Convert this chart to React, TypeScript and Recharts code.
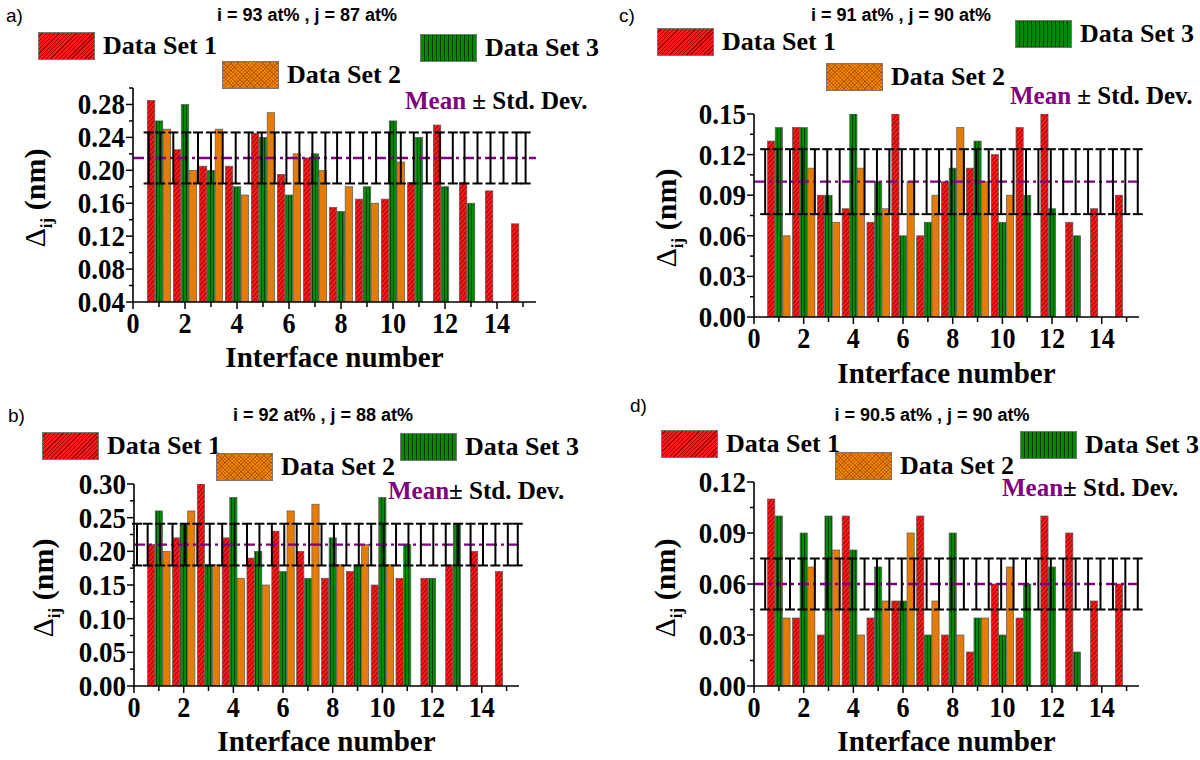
import React from 'react';
import { ComposedChart, Bar, XAxis, YAxis, Scatter, ErrorBar, ReferenceLine } from 'recharts';

// interface numbers shared by all four panels
const interfaceNo = [1, 2, 3, 4, 5, 6, 7, 8, 9, 10, 11, 12, 13, 14, 15];
const xTicks = [0, 1, 2, 3, 4, 5, 6, 7, 8, 9, 10, 11, 12, 13, 14, 15];

// a) i = 93 at%, j = 87 at%
const aSet1 = [0.285, 0.225, 0.205, 0.205, 0.245, 0.195, 0.215, 0.155, 0.165, 0.165, 0.185, 0.255, 0.185, 0.175, 0.135];
const aSet2 = [0.25, 0.2, 0.25, 0.17, 0.27, 0.22, 0.2, 0.18, 0.16, 0.21];
const aSet3 = [0.26, 0.28, 0.2, 0.18, 0.24, 0.17, 0.22, 0.15, 0.18, 0.26, 0.24, 0.18, 0.16];
const aMean = 0.215;
const aStd = 0.031;
const aErrX = [0.6, 1.05, 1.55, 2.05, 2.5, 3.0, 3.45, 3.95, 4.45, 4.95, 5.45, 5.9, 6.4, 6.9, 7.4, 7.85, 8.35, 8.85, 9.35, 9.85, 10.3, 10.8, 11.3, 11.8, 12.3, 12.75, 13.25, 13.75, 14.25, 14.75, 15.1];
const aYTicks = [0.04, 0.06, 0.08, 0.1, 0.12, 0.14, 0.16, 0.18, 0.2, 0.22, 0.24, 0.26, 0.28, 0.3];
const aYLabels = [0.04, 0.08, 0.12, 0.16, 0.2, 0.24, 0.28];

// b) i = 92 at%, j = 88 at%
const bSet1 = [0.21, 0.22, 0.3, 0.22, 0.19, 0.23, 0.2, 0.16, 0.17, 0.15, 0.16, 0.16, 0.18, 0.2, 0.17];
const bSet2 = [0.2, 0.26, 0.18, 0.16, 0.15, 0.26, 0.27, 0.18, 0.21, 0.18];
const bSet3 = [0.26, 0.24, 0.18, 0.28, 0.2, 0.17, 0.16, 0.22, 0.18, 0.28, 0.21, 0.16, 0.24];
const bMean = 0.21;
const bStd = 0.031;
const bErrX = [0.12, 0.55, 1.05, 1.55, 2.05, 2.55, 3.05, 3.55, 4.05, 4.55, 5.05, 5.55, 6.05, 6.55, 7.05, 7.55, 8.05, 8.55, 9.05, 9.55, 10.05, 10.55, 11.05, 11.55, 12.05, 12.55, 13.05, 13.55, 14.05, 14.55, 15.05, 15.45];
const bYTicks = [0, 0.025, 0.05, 0.075, 0.1, 0.125, 0.15, 0.175, 0.2, 0.225, 0.25, 0.275, 0.3];
const bYLabels = [0, 0.05, 0.1, 0.15, 0.2, 0.25, 0.3];

// c) i = 91 at%, j = 90 at%
const cSet1 = [0.13, 0.14, 0.09, 0.08, 0.07, 0.15, 0.06, 0.1, 0.11, 0.12, 0.14, 0.15, 0.07, 0.08, 0.09];
const cSet2 = [0.06, 0.11, 0.07, 0.11, 0.08, 0.1, 0.09, 0.14, 0.1, 0.09];
const cSet3 = [0.14, 0.14, 0.09, 0.15, 0.1, 0.06, 0.07, 0.11, 0.13, 0.07, 0.09, 0.08, 0.06];
const cMean = 0.1;
const cStd = 0.024;
const cErrX = [0.45, 0.95, 1.45, 1.95, 2.45, 2.95, 3.45, 3.95, 4.45, 4.95, 5.45, 5.95, 6.45, 6.95, 7.45, 7.95, 8.45, 8.95, 9.45, 9.95, 10.45, 10.95, 11.45, 11.95, 12.45, 12.95, 13.45, 13.95, 14.45, 14.95, 15.45];
const cYTicks = [0, 0.015, 0.03, 0.045, 0.06, 0.075, 0.09, 0.105, 0.12, 0.135, 0.15];
const cYLabels = [0, 0.03, 0.06, 0.09, 0.12, 0.15];

// d) i = 90.5 at%, j = 90 at%
const dSet1 = [0.11, 0.04, 0.03, 0.1, 0.04, 0.05, 0.1, 0.03, 0.02, 0.06, 0.04, 0.1, 0.09, 0.05, 0.06];
const dSet2 = [0.04, 0.07, 0.08, 0.03, 0.05, 0.09, 0.05, 0.03, 0.04, 0.07];
const dSet3 = [0.1, 0.09, 0.1, 0.08, 0.07, 0.05, 0.03, 0.09, 0.04, 0.03, 0.06, 0.07, 0.02];
const dMean = 0.06;
const dStd = 0.015;
const dErrX = [0.45, 0.95, 1.45, 1.95, 2.45, 2.95, 3.45, 3.95, 4.45, 4.95, 5.45, 5.95, 6.45, 6.95, 7.45, 7.95, 8.45, 8.95, 9.45, 9.95, 10.45, 10.95, 11.45, 11.95, 12.45, 12.95, 13.45, 13.95, 14.45, 14.95, 15.45];
const dYTicks = [0, 0.015, 0.03, 0.045, 0.06, 0.075, 0.09, 0.105, 0.12];
const dYLabels = [0, 0.03, 0.06, 0.09, 0.12];

const SERIF = "'Liberation Serif', 'Times New Roman', serif";
const SANS = "'Liberation Sans', Arial, sans-serif";
const PURPLE = '#800080';

const swatchBg = {
  red: 'repeating-linear-gradient(135deg, #ff1a1a 0px, #ff1a1a 2px, #9a0000 2px, #9a0000 3px)',
  green: 'repeating-linear-gradient(90deg, #008a00 0px, #008a00 3px, #003a00 3px, #003a00 4px)',
  orange:
    'repeating-linear-gradient(45deg, rgba(130,60,0,0.45) 0px, rgba(130,60,0,0.45) 1px, transparent 1px, transparent 2.5px), repeating-linear-gradient(-45deg, rgba(130,60,0,0.45) 0px, rgba(130,60,0,0.45) 1px, transparent 1px, transparent 2.5px), #ff8a00',
};

const Txt = ({ x, y, size, bold = true, family = SERIF, color = '#000', center = false, children }: any) => (
  <div
    style={{
      position: 'absolute',
      left: x,
      top: y,
      transform: `translate(${center ? '-50%' : '0'}, -50%)`,
      fontFamily: family,
      fontSize: size,
      fontWeight: bold ? 'bold' : 'normal',
      color,
      whiteSpace: 'nowrap',
      lineHeight: 1,
    }}
  >
    {children}
  </div>
);

const Swatch = ({ x, y, bg }: any) => (
  <div style={{ position: 'absolute', left: x, top: y, width: 57, height: 28, background: bg, border: '1px solid #777', boxSizing: 'border-box' }} />
);

// the number axis gives the bar its centre; each set sits one bar width left/right of it
const barShape = (slot: number, fill: string, w: number) => (p: any) => {
  if (!p.height || p.height <= 0) return <g />;
  const cx = p.x + (p.width || 0) / 2;
  return <rect x={cx + slot * w - w / 2} y={p.y} width={w} height={p.height} fill={fill} stroke="#5a5a5a" strokeWidth={0.7} />;
};

function Panel({ data, L }: any) {
  const W = 600;
  const H = 380;
  const yAxisW = 70;
  const xAxisH = 40;
  const rows = interfaceNo.map((x, i) => ({
    x,
    s1: data.set1[i] ?? null,
    s2: data.set2[i] ?? null,
    s3: data.set3[i] ?? null,
  }));
  const errRows = data.errX.map((x: number) => ({ x, m: data.mean, e: data.std }));
  const margin = {
    left: L.left - L.ox - yAxisW,
    right: L.ox + W - L.right,
    top: L.top - L.oy,
    bottom: L.oy + H - L.bottom - xAxisH,
  };

  const xTick = (p: any) => {
    const v = p.payload.value;
    const major = v % 2 === 0;
    const cx = p.x;
    const ay = L.bottom - L.oy;
    return (
      <g>
        <line x1={cx} x2={cx} y1={ay} y2={ay + (major ? 7 : 5)} stroke="#000" strokeWidth={1.5} />
        {major && (
          <text transform={`translate(${cx},${ay + 31}) scale(0.9,1)`} textAnchor="middle" fontFamily={SERIF} fontWeight="bold" fontSize={29} fill="#000">
            {v}
          </text>
        )}
      </g>
    );
  };

  const yTick = (p: any) => {
    const v = p.payload.value;
    const major = data.yLabels.some((l: number) => Math.abs(l - v) < 1e-9);
    const ax = L.left - L.ox;
    return (
      <g>
        <line x1={ax} x2={ax - (major ? 7 : 4)} y1={p.y} y2={p.y} stroke="#000" strokeWidth={1.5} />
        {major && (
          <text transform={`translate(${ax - 8},${p.y + 10}) scale(0.9,1)`} textAnchor="end" fontFamily={SERIF} fontWeight="bold" fontSize={30} fill="#000">
            {v.toFixed(2)}
          </text>
        )}
      </g>
    );
  };

  return (
    <div style={{ position: 'absolute', left: L.ox, top: L.oy, width: W, height: H }}>
      <ComposedChart width={W} height={H} data={rows} margin={margin} barGap={0} barCategoryGap={0}>
        <XAxis
          dataKey="x"
          type="number"
          domain={[0, 15.5]}
          ticks={xTicks}
          interval={0}
          allowDataOverflow
          height={xAxisH}
          axisLine={{ stroke: '#000', strokeWidth: 1.6 }}
          tickLine={false}
          tickSize={0}
          tick={xTick}
        />
        <YAxis
          type="number"
          domain={data.yDomain}
          ticks={data.yTicks}
          interval={0}
          allowDataOverflow
          width={yAxisW}
          axisLine={{ stroke: '#000', strokeWidth: 1.6 }}
          tickLine={false}
          tickSize={0}
          tick={yTick}
        />
        <Bar dataKey="s1" shape={barShape(-1, 'url(#patRed)', L.barW)} isAnimationActive={false} />
        <Bar dataKey="s3" shape={barShape(0, 'url(#patGreen)', L.barW)} isAnimationActive={false} />
        <Bar dataKey="s2" shape={barShape(1, 'url(#patOrange)', L.barW)} isAnimationActive={false} />
        <ReferenceLine y={data.mean} stroke={PURPLE} strokeWidth={2.4} strokeDasharray="11 4 3 4" />
        <Scatter data={errRows} dataKey="m" shape={() => <g />} isAnimationActive={false}>
          <ErrorBar dataKey="e" direction="y" width={5} stroke="#000" strokeWidth={2} isAnimationActive={false} />
        </Scatter>
      </ComposedChart>
    </div>
  );
}

const panelA = { set1: aSet1, set2: aSet2, set3: aSet3, mean: aMean, std: aStd, errX: aErrX, yTicks: aYTicks, yLabels: aYLabels, yDomain: [0.04, 0.3] };
const panelB = { set1: bSet1, set2: bSet2, set3: bSet3, mean: bMean, std: bStd, errX: bErrX, yTicks: bYTicks, yLabels: bYLabels, yDomain: [0, 0.3] };
const panelC = { set1: cSet1, set2: cSet2, set3: cSet3, mean: cMean, std: cStd, errX: cErrX, yTicks: cYTicks, yLabels: cYLabels, yDomain: [0, 0.15] };
const panelD = { set1: dSet1, set2: dSet2, set3: dSet3, mean: dMean, std: dStd, errX: dErrX, yTicks: dYTicks, yLabels: dYLabels, yDomain: [0, 0.12] };

const layA = { ox: 0, oy: 0, left: 133, right: 536, top: 88, bottom: 302, barW: 7.5 };
const layC = { ox: 600, oy: 0, left: 754, right: 1139, top: 114, bottom: 317, barW: 7.2 };
const layB = { ox: 0, oy: 380, left: 134, right: 519, top: 484, bottom: 686, barW: 7.2 };
const layD = { ox: 600, oy: 380, left: 754, right: 1139, top: 482, bottom: 686, barW: 7.2 };

function Decor({ L, letter, letterY, title, titleX, titleY, s1, s2, s3, mean, meanSpace, yLab, xLabY }: any) {
  return (
    <>
      <Txt x={letter[1]} y={letterY} size={19} bold={false} family={SANS}>{letter[0]}</Txt>
      <Txt x={titleX} y={titleY} size={18} family={SANS} center>{title}</Txt>
      <Swatch x={s1[0]} y={s1[1]} bg={swatchBg.red} />
      <Txt x={s1[0] + 65} y={s1[1] + 14} size={26}>Data Set 1</Txt>
      <Swatch x={s2[0]} y={s2[1]} bg={swatchBg.orange} />
      <Txt x={s2[0] + 65} y={s2[1] + 14} size={26}>Data Set 2</Txt>
      <Swatch x={s3[0]} y={s3[1]} bg={swatchBg.green} />
      <Txt x={s3[0] + 65} y={s3[1] + 14} size={26}>Data Set 3</Txt>
      <Txt x={mean[0]} y={mean[1]} size={25}>
        <span style={{ color: PURPLE }}>Mean</span>
        {meanSpace ? ' ' : ''}± Std. Dev.
      </Txt>
      <div
        style={{
          position: 'absolute',
          left: yLab[0],
          top: yLab[1],
          transform: 'translate(-50%, -50%) rotate(-90deg)',
          fontFamily: SERIF,
          fontSize: 30,
          fontWeight: 'bold',
          whiteSpace: 'nowrap',
          lineHeight: 1,
        }}
      >
        <span style={{ fontWeight: 'normal' }}>Δ</span>
        <sub style={{ fontSize: 17 }}>ij</sub> (nm)
      </div>
      <Txt x={(L.left + L.right) / 2} y={xLabY} size={29} center>Interface number</Txt>
    </>
  );
}

export default function App() {
  return (
    <div style={{ position: 'absolute', left: 0, top: 0, width: 1200, height: 760, background: '#fff', overflow: 'hidden' }}>
      <svg width={0} height={0} style={{ position: 'absolute' }}>
        <defs>
          <pattern id="patRed" width={3.2} height={3.2} patternUnits="userSpaceOnUse" patternTransform="rotate(40)">
            <rect width={3.2} height={3.2} fill="#ff1a1a" />
            <line x1={0.5} y1={0} x2={0.5} y2={3.2} stroke="#8a0000" strokeWidth={0.9} />
          </pattern>
          <pattern id="patGreen" width={3} height={3} patternUnits="userSpaceOnUse">
            <rect width={3} height={3} fill="#008a00" />
            <line x1={0.5} y1={0} x2={0.5} y2={3} stroke="#003300" strokeWidth={0.8} />
          </pattern>
          <pattern id="patOrange" width={2.4} height={2.4} patternUnits="userSpaceOnUse">
            <rect width={2.4} height={2.4} fill="#ff8a00" />
            <rect x={0} y={0} width={1.2} height={1.2} fill="#8a4a10" opacity={0.45} />
            <rect x={1.2} y={1.2} width={1.2} height={1.2} fill="#8a4a10" opacity={0.45} />
          </pattern>
        </defs>
      </svg>

      <Panel data={panelA} L={layA} />
      <Panel data={panelC} L={layC} />
      <Panel data={panelB} L={layB} />
      <Panel data={panelD} L={layD} />

      <Decor L={layA} letter={['a)', 6]} letterY={15} title="i = 93 at% , j = 87 at%" titleX={307} titleY={15}
        s1={[38, 32]} s2={[222, 61]} s3={[420, 34]} mean={[405, 100]} meanSpace yLab={[37, 198]} xLabY={357} />
      <Decor L={layC} letter={['c)', 619]} letterY={15} title="i = 91 at% , j = 90 at%" titleX={901} titleY={15}
        s1={[657, 28]} s2={[826, 63]} s3={[1015, 20]} mean={[1010, 95]} meanSpace yLab={[668, 218]} xLabY={373} />
      <Decor L={layB} letter={['b)', 8]} letterY={415} title="i = 92 at% , j = 88 at%" titleX={323} titleY={415}
        s1={[42, 432]} s2={[216, 453]} s3={[400, 433]} mean={[388, 490]} meanSpace={false} yLab={[45, 588]} xLabY={741} />
      <Decor L={layD} letter={['d)', 630]} letterY={405} title="i = 90.5 at% , j = 90 at%" titleX={932} titleY={415}
        s1={[661, 430]} s2={[835, 452]} s3={[1020, 431]} mean={[1002, 487]} meanSpace={false} yLab={[667, 588]} xLabY={741} />
    </div>
  );
}
